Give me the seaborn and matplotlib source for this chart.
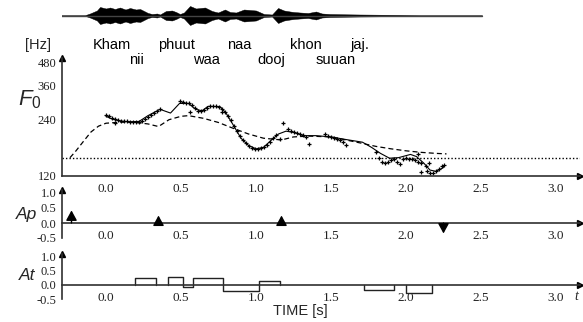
import matplotlib
matplotlib.use("Agg")
import numpy as np
import pandas as pd
import matplotlib.pyplot as plt
import seaborn as sns

# ---- data ----
time_ticks = [0.0, 0.5, 1.0, 1.5, 2.0, 2.5, 3.0]
f0_ticks = [120, 240, 360, 480]
cmd_ticks = [-0.5, 0.0, 0.5, 1.0]

words_top = ["Kham", "phuut", "naa", "khon", "jaj."]
words_top_t = [0.04, 0.47, 0.89, 1.33, 1.69]
words_bot = ["nii", "waa", "dooj", "suuan"]
words_bot_t = [0.20, 0.67, 1.10, 1.53]

# speech waveform envelope (half amplitude, in px of the strip)
wave_t = [-0.333, -0.14, -0.107, -0.06, -0.04, 0.0, 0.027, 0.06, 0.093, 0.13, 0.16, 0.2, 0.227,
          0.247, 0.28, 0.307, 0.34, 0.36, 0.4, 0.44, 0.467, 0.493, 0.52, 0.56, 0.6, 0.66,
          0.707, 0.747, 0.793, 0.827, 0.867, 0.92, 0.96, 1.0, 1.053, 1.107, 1.147, 1.187,
          1.227, 1.253, 1.293, 1.347, 1.4, 1.44, 1.493, 1.533, 1.593, 1.693, 1.827, 1.96,
          2.093, 2.507]
wave_env = [0.3, 0.3, 2.0, 5.0, 8.5, 7.0, 8.0, 6.5, 8.0, 6.0, 7.5, 6.0, 6.5,
            5.0, 2.5, 1.5, 2.0, 1.0, 4.5, 5.0, 3.5, 1.5, 3.0, 9.5, 7.0, 8.0,
            4.5, 3.0, 6.0, 3.5, 3.0, 6.0, 5.5, 5.0, 1.5, 1.0, 7.5, 5.0,
            4.0, 3.5, 3.0, 2.5, 4.0, 2.0, 1.5, 1.4, 1.2, 1.0, 0.8, 0.6,
            0.3, 0.3]

# measured F0 (crosses)
meas_t = [0.00, 0.02, 0.04, 0.06, 0.08, 0.10, 0.12, 0.14, 0.16, 0.18, 0.20, 0.22, 0.24,
          0.26, 0.28, 0.30, 0.32, 0.34, 0.36, 0.06,
          0.49, 0.51, 0.53, 0.55, 0.57, 0.59, 0.61, 0.63, 0.65, 0.67, 0.69, 0.71, 0.73,
          0.75, 0.77, 0.79, 0.81, 0.83, 0.85, 0.87, 0.89, 0.91, 0.93, 0.95, 0.97, 0.99,
          1.01, 1.03, 1.05, 1.07, 1.09, 1.11, 1.13, 0.56, 0.77,
          1.18, 1.21, 1.23, 1.25, 1.27, 1.29, 1.31, 1.33, 1.35, 1.16,
          1.46, 1.48, 1.50, 1.52, 1.54, 1.56, 1.58, 1.60,
          1.80, 1.82, 1.84, 1.86, 1.88, 1.90, 1.92, 1.94, 1.96, 1.98, 2.00, 2.02, 2.04,
          2.06, 2.08, 2.10, 2.08, 2.13,
          2.10, 2.14, 2.16, 2.18, 2.20, 2.22, 2.24, 2.25, 2.15]
meas_hz = [252, 248, 243, 239, 237, 235, 234, 233, 232, 231, 231, 232, 235,
           241, 247, 253, 258, 264, 270, 228,
           300, 296, 293, 290, 284, 274, 266, 263, 268, 276, 281, 281, 280,
           279, 272, 260, 248, 236, 220, 207, 196, 187, 179, 173, 169, 167,
           167, 168, 170, 174, 181, 190, 197, 262, 262,
           228, 212, 208, 205, 203, 200, 197, 192, 178, 188,
           199, 196, 193, 190, 188, 185, 181, 176,
           160, 150, 143, 141, 143, 146, 147, 143, 139, 147, 149, 148, 147,
           146, 142, 140, 157, 136,
           126, 127, 125, 125, 127, 130, 135, 138, 140]

# model F0 contour (solid)
model_t = [0.0, 0.04, 0.1, 0.15, 0.22, 0.28, 0.36, 0.43, 0.49, 0.55, 0.6, 0.64, 0.68,
           0.76, 0.8, 0.85, 0.9, 0.95, 1.0, 1.05, 1.1, 1.15, 1.2, 1.25, 1.32, 1.4, 1.5,
           1.6, 1.71, 1.77, 1.83, 1.89, 1.95, 2.03, 2.07, 2.12, 2.16, 2.2, 2.25]
model_hz = [248, 240, 234, 232, 233, 250, 270, 258, 290, 290, 270, 265, 280,
            279, 258, 222, 190, 174, 167, 170, 185, 200, 207, 204, 196, 196, 193,
            187, 181, 170, 158, 149, 150, 156, 152, 140, 129, 127, 133]

# phrase component (dashed)
phrase_t = [-0.24, -0.2, -0.15, -0.1, -0.05, 0.0, 0.1, 0.2, 0.28, 0.35, 0.42, 0.5, 0.55,
            0.65, 0.75, 0.85, 0.95, 1.05, 1.17, 1.25, 1.35, 1.5, 1.6, 1.7, 1.8, 1.9, 2.0,
            2.1, 2.2, 2.27]
phrase_hz = [150, 163, 183, 205, 220, 228, 231, 230, 226, 219, 238, 248, 250,
             242, 230, 214, 200, 190, 186, 193, 195, 193, 186, 179, 172, 167, 163,
             160, 158, 157]
fb_hz = 150

# phrase commands
ap_t = [-0.23, 0.35, 1.17, 2.25]
ap_val = [0.42, 0.25, 0.25, -0.35]

# accent commands
acc_on = [0.19, 0.41, 0.51, 0.58, 0.78, 1.02, 1.72, 2.00]
acc_off = [0.33, 0.51, 0.58, 0.78, 1.02, 1.16, 1.92, 2.17]
acc_amp = [0.25, 0.29, -0.06, 0.25, -0.23, 0.13, -0.17, -0.30]

# ---- style ----
sns.set_theme(style="white")
plt.rcParams["font.family"] = ["Liberation Sans", "DejaVu Sans"]
plt.rcParams["mathtext.fontset"] = "custom"
plt.rcParams["mathtext.it"] = "Liberation Sans:italic"
plt.rcParams["mathtext.rm"] = "Liberation Sans"

W, H = 583, 322
fig = plt.figure(figsize=(W / 100, H / 100), dpi=100)
fig.patch.set_facecolor("white")

x_left, x_right = 62, 580
t_min = (x_left - 106) / 150
t_max = (x_right - 106) / 150
ax_l = x_left / W
ax_w = (x_right - x_left) / W
serif = "Liberation Serif"
axis_col = "#303030"


def frac(top_px, bot_px):
    return [ax_l, 1 - bot_px / H, ax_w, (bot_px - top_px) / H]


def style_axis(ax, yticks, ylabels, zero_spine=False):
    sns.despine(ax=ax, top=True, right=True)
    if zero_spine:
        ax.spines["bottom"].set_position(("data", 0))
    for s in ["left", "bottom"]:
        ax.spines[s].set_color(axis_col)
        ax.spines[s].set_linewidth(1.2)
    ax.set_xlim(t_min, t_max)
    ax.set_xticks(time_ticks)
    ax.set_xticklabels([f"{v:.1f}" for v in time_ticks], fontfamily=serif, fontsize=9.5)
    ax.set_yticks(yticks)
    ax.set_yticklabels(ylabels, fontfamily=serif, fontsize=9)
    ax.minorticks_off()
    ax.tick_params(axis="both", direction="out", length=3, width=1, color=axis_col,
                   pad=1, labelcolor="#222222")
    ax.tick_params(axis="x", pad=2)
    ax.set_facecolor("none")
    ax.grid(False)
    ax.set_xlabel("")
    ax.set_ylabel("")
    ax.plot(0, 1, marker="^", color="black", markersize=4, transform=ax.transAxes,
            clip_on=False)
    y_arrow = 0 if zero_spine else ax.get_ylim()[0]
    ax.plot(1, y_arrow, marker=">", color="black", markersize=4,
            transform=ax.get_yaxis_transform(), clip_on=False)


# ---- waveform ----
ax_wave = fig.add_axes(frac(5, 26))
ax_wave.fill_between(wave_t, [-v for v in wave_env], wave_env, color="black", lw=0.3)
ax_wave.plot([wave_t[0], wave_t[-1]], [0, 0], color="#444444", lw=1)
ax_wave.set_xlim(t_min, t_max)
ax_wave.set_ylim(-10.5, 10.5)
ax_wave.axis("off")

# ---- F0 panel ----
ax_f0 = fig.add_axes(frac(58, 176))
ax_f0.set_yscale("log")
ax_f0.set_ylim(120, 504)
ax_f0.axhline(fb_hz, color="black", lw=1, ls=(0, (1, 1.5)))
sns.lineplot(x=phrase_t, y=phrase_hz, ax=ax_f0, color="black", lw=0.9,
             linestyle=(0, (4, 2.5)), sort=False)
sns.lineplot(x=model_t, y=model_hz, ax=ax_f0, color="black", lw=0.8, sort=False)
sns.scatterplot(x=meas_t, y=meas_hz, ax=ax_f0, marker="+", color="black", s=11,
                linewidth=0.9)
style_axis(ax_f0, f0_ticks, [str(v) for v in f0_ticks])

# ---- phrase commands ----
ax_ap = fig.add_axes(frac(190, 238))
ax_ap.set_ylim(-0.5, 1.1)
for t, a in zip(ap_t, ap_val):
    ax_ap.annotate("", xy=(t, a), xytext=(t, 0),
                   arrowprops=dict(arrowstyle="-|>,head_length=0.55,head_width=0.3",
                                   color="black", lw=1, shrinkA=0, shrinkB=0,
                                   mutation_scale=11))
style_axis(ax_ap, cmd_ticks, ["-0.5", "0.0", "0.5", "1.0"], zero_spine=True)

# ---- accent commands ----
ax_at = fig.add_axes(frac(254, 299))
ax_at.set_ylim(-0.5, 1.1)
for t1, t2, a in zip(acc_on, acc_off, acc_amp):
    ax_at.plot([t1, t1, t2, t2], [0, a, a, 0], color="#222222", lw=1)
style_axis(ax_at, cmd_ticks, ["-0.5", "0.0", "0.5", "1.0"], zero_spine=True)

# ---- texts ----
xt = ax_f0.get_xaxis_transform()
for w, t in zip(words_top, words_top_t):
    ax_f0.text(t, 1 + 13 / 118, w, transform=xt, ha="center", va="center",
               fontsize=10.5, color="black")
for w, t in zip(words_bot, words_bot_t):
    ax_f0.text(t, 1 - 2 / 118, w, transform=xt, ha="center", va="center",
               fontsize=10.5, color="black")

fig.text(38 / W, 1 - 45 / H, "[Hz]", ha="center", va="center", fontsize=10.5)
fig.text(30 / W, 1 - 100 / H, r"$F_0$", ha="center", va="center", fontsize=16)
fig.text(26 / W, 1 - 214 / H, "Ap", ha="center", va="center", fontsize=12.5,
         fontstyle="italic")
fig.text(27 / W, 1 - 276 / H, "At", ha="center", va="center", fontsize=12.5,
         fontstyle="italic")
fig.text(300 / W, 1 - 311 / H, "TIME [s]", ha="center", va="center", fontsize=10.5)
fig.text(576 / W, 1 - 297 / H, "t", ha="center", va="center", fontsize=10,
         fontstyle="italic", fontfamily=serif)

fig.savefig("out.png", dpi=100, facecolor="white")
